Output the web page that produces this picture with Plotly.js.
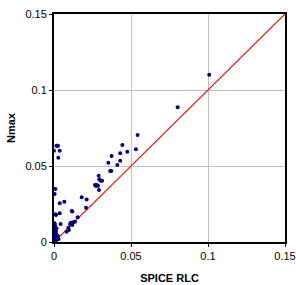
<!DOCTYPE html>
<html><head><meta charset="utf-8">
<script src="https://cdn.plot.ly/plotly-3.0.1.min.js"></script>
<style>html,body{margin:0;padding:0;background:#fff;}#chart{width:296px;height:285px;}</style>
</head><body><div id="chart"></div>
<script>
const spiceRLC = [0.1008,0.0803,0.0543,0.0532,0.0444,0.0430,0.0476,0.0374,0.0430,0.0353,0.0411,0.0372,0.0365,
  0.0290,0.0294,0.0303,0.0312,0.0266,0.0277,0.0273,0.0286,0.0292,0.0180,0.0212,0.0208,0.0119,0.0154,0.0115,
  0.0125,0.0136,0.0110,0.0119,0.0104,0.0093,0.0097,0.0082,0.0067,0.0037,0.0043,0.0037,0.0013,
  0.0020,0.0026,0.0016,0.0000,0.0037,0.0028,0.0009,0.0004,0.0010,0.0004,
  0.0002,0.0008,0.0012,0.0005,0.0015,0.0003,0.0010,0.0018,0.0006,0.0022,0.0001,0.0013,0.0008,0.0025,0.0004,0.0016,0.0002,0.0030,0.0011,0.0006];
const nmax = [0.1100,0.0886,0.0704,0.0610,0.0638,0.0584,0.0594,0.0566,0.0535,0.0522,0.0507,0.0467,0.0467,
  0.0436,0.0413,0.0403,0.0403,0.0375,0.0375,0.0368,0.0370,0.0342,0.0294,0.0280,0.0226,0.0200,0.0163,0.0204,
  0.0130,0.0134,0.0127,0.0112,0.0118,0.0094,0.0079,0.0068,0.0265,0.0255,0.0118,0.0189,0.0178,
  0.0634,0.0634,0.0634,0.0600,0.0600,0.0555,0.0349,0.0316,0.0182,0.0123,
  0.0100,0.0085,0.0070,0.0060,0.0050,0.0045,0.0035,0.0030,0.0025,0.0020,0.0015,0.0012,0.0008,0.0040,0.0005,0.0090,0.0002,0.0020,0.0065,0.0110];
const refX = [0, 0.15];
const refY = [0, 0.15];
const ticks = [0, 0.05, 0.1, 0.15];
const tickText = ['0', '0.05', '0.1', '0.15'];

const data = [
  {x: refX, y: refY, type: 'scatter', mode: 'lines', line: {color: '#ff0000', width: 1.2}, hoverinfo: 'skip', showlegend: false},
  {x: spiceRLC, y: nmax, type: 'scatter', mode: 'markers', marker: {color: '#000080', size: 4}, showlegend: false}
];
const axisCommon = {
  range: [0, 0.15], tickvals: ticks, ticktext: tickText, showgrid: true, gridcolor: '#c0c0c0', gridwidth: 1,
  zeroline: false, showline: true, linecolor: '#000', linewidth: 2, mirror: true,
  ticks: 'outside', ticklen: 3, tickcolor: '#000', tickfont: {family: 'Liberation Sans, Arial', size: 11, color: '#000'}
};
const layout = {
  width: 296, height: 285, margin: {l: 54, r: 11, t: 14, b: 43},
  paper_bgcolor: '#fff', plot_bgcolor: '#fff',
  xaxis: Object.assign({}, axisCommon, {title: {text: '<b>SPICE RLC</b>', font: {family: 'Liberation Sans, Arial', size: 11, color: '#000'}, standoff: 13}}),
  yaxis: Object.assign({}, axisCommon, {title: {text: '<b>Nmax</b>', font: {family: 'Liberation Sans, Arial', size: 11, color: '#000'}, standoff: 8}}),
  font: {family: 'Liberation Sans, Arial', size: 11, color: '#000'}
};
Plotly.newPlot('chart', data, layout, {displayModeBar: false, staticPlot: true});
</script></body></html>
